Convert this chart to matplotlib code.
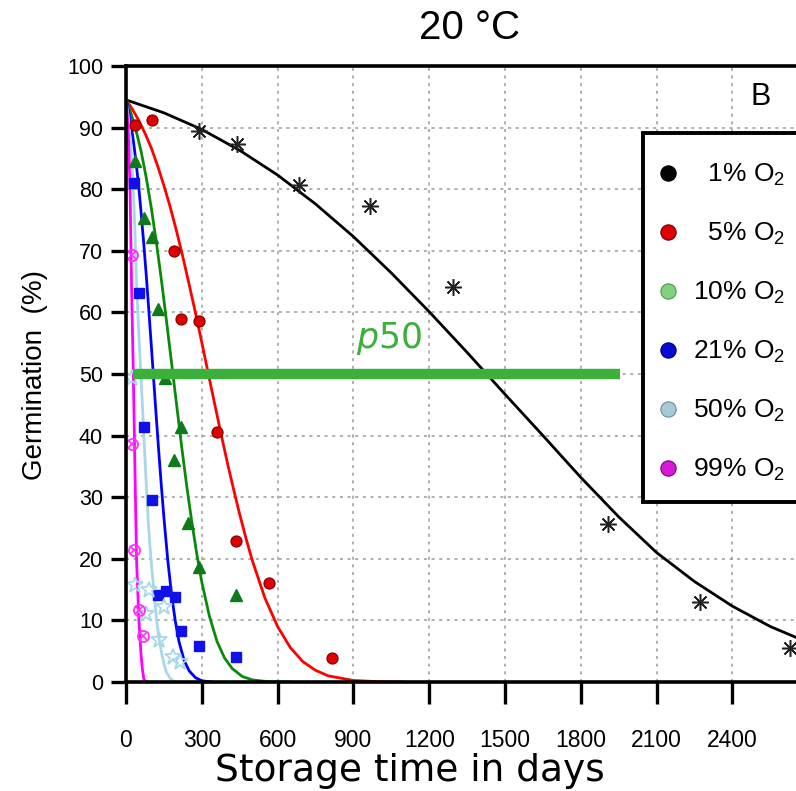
import matplotlib
matplotlib.use("Agg")
import matplotlib.pyplot as plt
from matplotlib.lines import Line2D
from matplotlib.patches import Rectangle

ARIAL = "Liberation Sans"
plt.rcParams["mathtext.fontset"] = "custom"
plt.rcParams["mathtext.rm"] = ARIAL
plt.rcParams["mathtext.it"] = "DejaVu Sans:italic"

# ---------------- data ----------------
series_labels = ["1% O$_2$", "5% O$_2$", "10% O$_2$", "21% O$_2$", "50% O$_2$", "99% O$_2$"]

# observed germination (days, %)
obs1_t = [289, 439, 685, 966, 1294, 1907, 2271, 2628]
obs1_g = [89.4, 87.3, 80.7, 77.3, 64.1, 25.6, 13.0, 5.5]
obs5_t = [36, 102, 190, 218, 289, 359, 435, 567, 814]
obs5_g = [90.5, 91.3, 69.9, 59.0, 58.6, 40.6, 22.9, 16.1, 3.9]
obs10_t = [36, 71, 102, 128, 154, 191, 218, 247, 289, 435]
obs10_g = [84.5, 75.3, 72.3, 60.5, 49.3, 36.0, 41.4, 25.8, 18.6, 14.2]
obs21_t = [32, 51, 71, 102, 128, 157, 194, 218, 289, 435]
obs21_g = [81.0, 63.1, 41.4, 29.5, 14.1, 14.7, 13.8, 8.3, 5.8, 4.0]
obs50_t = [24, 36, 92, 79, 152, 132, 187, 214]
obs50_g = [49.4, 15.7, 14.9, 11.1, 12.2, 6.8, 4.1, 3.3]
obs99_t = [22, 22, 32, 51, 69]
obs99_g = [69.3, 38.7, 21.4, 11.7, 7.5]

# fitted survival curves (days, %)
fit1_t = [0, 150, 300, 450, 600, 750, 900, 1050, 1200, 1350, 1500, 1650, 1800, 1950, 2100, 2250, 2400, 2550, 2700]
fit1_g = [94.5, 92.4, 89.7, 86.3, 82.3, 77.6, 72.3, 66.4, 60.1, 53.5, 46.7, 40.0, 33.2, 26.8, 21.0, 16.3, 12.3, 9.0, 6.4]
fit5_t = [0, 25, 50, 75, 100, 125, 150, 175, 200, 225, 250, 275, 300, 325, 350, 375, 400, 425, 450, 475,
          500, 550, 600, 650, 700, 750, 800, 900, 1000, 1100]
fit5_g = [94.5, 93.0, 91.2, 89.1, 86.7, 83.8, 80.6, 77.1, 73.2, 69.0, 64.5, 59.9, 55.1, 50.2, 45.3, 40.5,
          35.8, 31.4, 27.2, 23.3, 19.7, 13.6, 9.0, 5.6, 3.3, 1.9, 1.0, 0.25, 0.05, 0.0]
fit10_t = [0, 20, 40, 60, 80, 100, 120, 140, 160, 180, 200, 220, 240, 260, 280, 300, 330, 360, 390, 420,
           460, 500, 560, 650]
fit10_g = [94.5, 92.3, 89.5, 86.1, 81.9, 77.0, 71.4, 65.3, 58.7, 51.9, 45.1, 38.3, 31.9, 26.1, 20.8, 16.2,
           10.7, 6.6, 3.9, 2.2, 0.9, 0.34, 0.06, 0.0]
fit21_t = [0, 10, 20, 30, 40, 50, 60, 70, 80, 90, 100, 110, 120, 130, 140, 150, 165, 180, 195, 210, 230,
           250, 275, 300, 340]
fit21_g = [94.5, 92.7, 90.4, 87.6, 84.3, 80.5, 76.1, 71.3, 66.1, 60.5, 54.7, 48.8, 42.9, 37.2, 31.8, 26.7,
           19.9, 14.3, 9.9, 6.5, 3.5, 1.8, 0.7, 0.2, 0.0]
fit50_t = [0, 10, 20, 29, 36, 42, 50, 62, 70, 79, 88, 95, 102, 112, 121, 131, 141, 151, 161, 175, 186, 200]
fit50_g = [94.5, 91.5, 86.5, 80.0, 72.5, 64.5, 57.0, 47.5, 40.5, 33.0, 26.0, 22.0, 18.5, 14.0, 10.1, 7.0,
           4.7, 2.8, 1.5, 0.6, 0.2, 0.0]
fit99_t = [0, 5, 10, 16, 22, 29, 36, 42, 51, 59, 65, 71, 80]
fit99_g = [94.5, 92.0, 88.0, 80.0, 64.0, 50.0, 33.0, 19.5, 10.1, 4.7, 2.0, 0.4, 0.0]

p50_level = 50
p50_span = [28, 1955]

x_ticks = [0, 300, 600, 900, 1200, 1500, 1800, 2100, 2400]
y_ticks = [0, 10, 20, 30, 40, 50, 60, 70, 80, 90, 100]

# ---------------- figure ----------------
W, H = 796, 791
fig = plt.figure(figsize=(W / 100, H / 100), dpi=100)
left, bottom, top = 126, 682, 66
xmax = 2700
ax_w = xmax * 0.2527
ax = fig.add_axes([left / W, 1 - bottom / H, ax_w / W, (bottom - top) / H])
ax.set_xlim(0, xmax)
ax.set_ylim(0, 100)

ax.grid(True, color="#9a9a9a", linestyle=(0, (2, 3)), linewidth=1.1)
ax.set_axisbelow(True)

for s in ["left", "top", "bottom"]:
    ax.spines[s].set_linewidth(2.6)
    ax.spines[s].set_color("black")
    ax.spines[s].set_zorder(6)
ax.spines["right"].set_visible(False)
ax.set_xticks(x_ticks)
ax.set_yticks(y_ticks)
ax.set_xticklabels([str(v) for v in x_ticks], fontfamily=ARIAL, fontsize=16.5)
ax.set_yticklabels([str(v) for v in y_ticks], fontfamily=ARIAL, fontsize=15.5)
ax.tick_params(axis="x", direction="out", length=16, width=2.4, color="black", pad=18)
ax.tick_params(axis="y", direction="out", length=10.5, width=2.4, color="black", pad=6)

# fitted curves
curve_cols = ["black", "#ff0000", "#0a8a0a", "#0000ff", "#a8d8e8", "#ff00ff"]
fits = [(fit1_t, fit1_g), (fit5_t, fit5_g), (fit10_t, fit10_g), (fit21_t, fit21_g),
        (fit50_t, fit50_g), (fit99_t, fit99_g)]
for (t, g), c in zip(fits, curve_cols):
    ax.plot(t, g, color=c, lw=2.0, zorder=3)

# observations
ax.plot(obs1_t, obs1_g, ls="none", marker=(8, 2, 0), ms=12, mew=1.1, color="#222222", zorder=4)
ax.plot(obs5_t, obs5_g, ls="none", marker="o", ms=8, mfc="#e00000", mec="#7a0000", mew=0.8, zorder=4)
ax.plot(obs10_t, obs10_g, ls="none", marker="^", ms=9, mfc="#0f7a1a", mec="#0f7a1a", zorder=4)
ax.plot(obs21_t, obs21_g, ls="none", marker="s", ms=7.5, mfc="#1010e8", mec="#1010e8", zorder=4)
ax.plot(obs50_t, obs50_g, ls="none", marker="*", ms=12, mfc="none", mec="#a8d8e8", mew=1.3, zorder=4)
ax.plot(obs99_t, obs99_g, ls="none", marker="o", ms=8, mfc="none", mec="#ff30ff", mew=1.3, zorder=4)
ax.plot(obs99_t, obs99_g, ls="none", marker="x", ms=5.5, mec="#ff30ff", mew=1.2, zorder=4)

# p50 line and label
ax.plot(p50_span, [p50_level, p50_level], color="#3bb03b", lw=7.5, solid_capstyle="butt", zorder=5)
ax.text(1040, 55.8, "$\\mathit{p}$50", color="#3bb03b", fontsize=25, fontfamily="DejaVu Sans",
        ha="center", va="center", zorder=5)

# panel letter
ax.text(2470, 95, "B", fontsize=22, fontfamily=ARIAL, ha="left", va="center")

# legend box
box = Rectangle((643 / W, 1 - 502 / H), 200 / W, (502 - 133) / H, transform=fig.transFigure,
                facecolor="white", edgecolor="black", linewidth=2.8, zorder=9, clip_on=False)
fig.add_artist(box)

leg_cols = ["#050505", "#e00000", "#80d080", "#0a0ad8", "#a8cad8", "#d81ad8"]
leg_edges = ["#000000", "#700000", "#4a9a4a", "#000070", "#6a8a98", "#800080"]
handles = [Line2D([], [], ls="none", marker="o", ms=11, mfc=c, mec=e, mew=0.8)
           for c, e in zip(leg_cols, leg_edges)]
fs = "\u2007"
labels = [fs + series_labels[0], fs + series_labels[1]] + series_labels[2:]
leg = fig.legend(handles, labels, loc="upper left", bbox_to_anchor=(655 / W, 1 - 162 / H),
                 bbox_transform=fig.transFigure, borderaxespad=0, frameon=False,
                 prop={"family": ARIAL, "size": 19}, labelspacing=1.23, handletextpad=0.45,
                 borderpad=0, handlelength=1.0)
leg.set_zorder(10)

# titles
fig.text(470 / W, 1 - 28 / H, "20 °C", fontsize=29, fontfamily=ARIAL, ha="center", va="center")
fig.text(35 / W, 1 - 375 / H, "Germination  (%)", fontsize=20, fontfamily=ARIAL, rotation=90,
         ha="center", va="center")
fig.text(410 / W, 1 - 771 / H, "Storage time in days", fontsize=27, fontfamily="DejaVu Sans",
         ha="center", va="center")

fig.savefig("out.png", dpi=100)
